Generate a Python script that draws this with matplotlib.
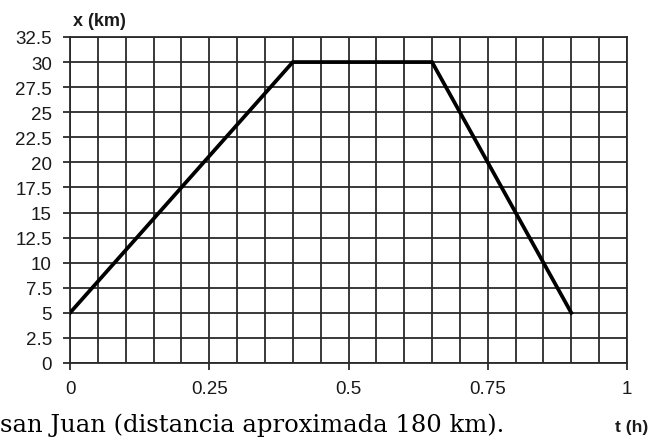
import matplotlib
matplotlib.use("Agg")
import matplotlib.pyplot as plt
import numpy as np

# data
t_h = [0, 0.4, 0.65, 0.9]
x_km = [5, 30, 30, 5]
xticks = [0, 0.25, 0.5, 0.75, 1]
xticklabels = ["0", "0.25", "0.5", "0.75", "1"]
yticks = np.arange(0, 32.6, 2.5)
yticklabels = ["0", "2.5", "5", "7.5", "10", "12.5", "15", "17.5", "20",
               "22.5", "25", "27.5", "30", "32.5"]

plt.rcParams['font.family'] = ['Liberation Sans', 'DejaVu Sans']

fig = plt.figure(figsize=(6.6, 4.39), dpi=100)
ax = fig.add_axes([70/660, 1-364/439, (627-70)/660, (364-38)/439])

ax.plot(t_h, x_km, color='black', lw=2.7, solid_joinstyle='miter', zorder=3)

ax.set_xlim(0, 1)
ax.set_ylim(0, 32.5)
ax.set_xticks(xticks)
ax.set_xticklabels(xticklabels)
ax.set_xticks(np.arange(0, 1.001, 0.05), minor=True)
ax.set_yticks(yticks)
ax.set_yticklabels(yticklabels)

ax.grid(True, which='both', color='#2a2a2a', lw=1.3)
ax.tick_params(which='major', length=5, width=1.3, color='#2a2a2a',
               labelsize=13.5, labelcolor='#1a1a1a')
ax.tick_params(axis='x', which='major', pad=7)
ax.tick_params(axis='y', which='major', pad=8)
ax.tick_params(which='minor', length=0)
for s in ax.spines.values():
    s.set_color('#2a2a2a')
    s.set_linewidth(1.3)

fig.text(73/660, 1-21/439, "x (km)", fontsize=13, fontweight='bold',
         ha='left', va='center', color='#1a1a1a')
fig.text(632/660, 1-428/439, "t (h)", fontsize=12.5, fontweight='bold',
         ha='center', va='center', color='#1a1a1a')
fig.text(0.0, 1-432/439, "san Juan (distancia aproximada 180 km).",
         fontsize=17.5, family='DejaVu Serif', ha='left', va='baseline',
         color='black')

fig.savefig("out.png", dpi=100)
